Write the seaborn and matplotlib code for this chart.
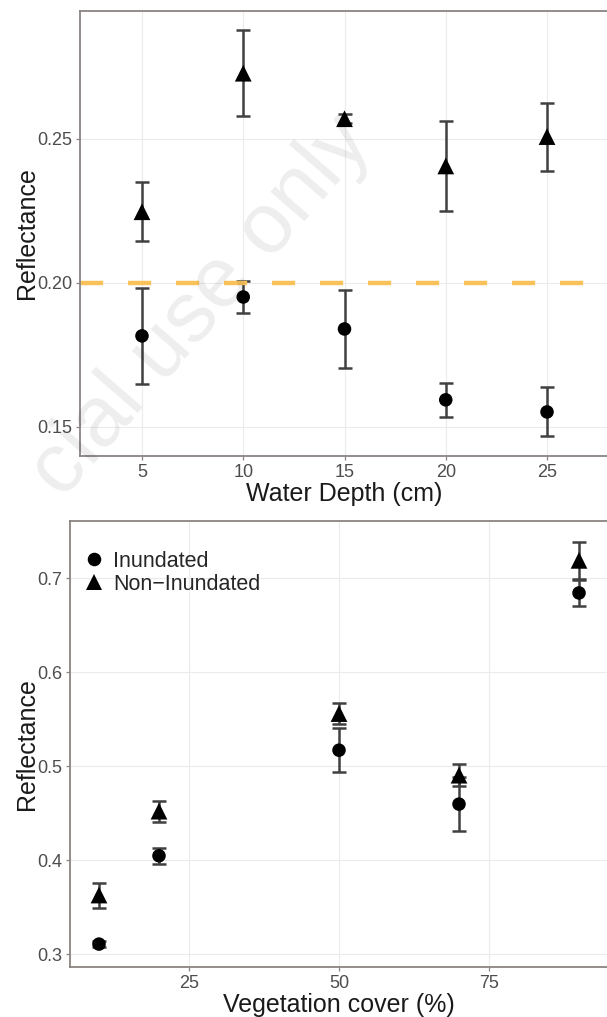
import seaborn as sns
import matplotlib.pyplot as plt
import pandas as pd


# Data

depth = [5, 10, 15, 20, 25]
depth_inund = [0.1816, 0.1951, 0.1840, 0.1594, 0.1552]
depth_inund_se = [0.0168, 0.0055, 0.0134, 0.0059, 0.0085]
depth_non = [0.2247, 0.2728, 0.2570, 0.2406, 0.2508]
depth_non_se = [0.0102, 0.0149, 0.0016, 0.0155, 0.0118]

cover = [10, 20, 50, 70, 90]
cover_inund = [0.3106, 0.4046, 0.5170, 0.4596, 0.6844]
cover_inund_se = [0.0030, 0.0083, 0.0235, 0.0284, 0.0142]
cover_non = [0.3628, 0.4521, 0.5560, 0.4904, 0.7191]
cover_non_se = [0.0133, 0.0112, 0.0115, 0.0120, 0.0197]

groups = ["Inundated", "Non\u2212Inundated"]
threshold = 0.20


def make_df(x, a, a_se, b, b_se):
    return pd.DataFrame({
        "x": list(x) + list(x),
        "y": list(a) + list(b),
        "se": list(a_se) + list(b_se),
        "Group": [groups[0]] * len(x) + [groups[1]] * len(x),
    })


df_depth = make_df(depth, depth_inund, depth_inund_se, depth_non, depth_non_se)
df_cover = make_df(cover, cover_inund, cover_inund_se, cover_non, cover_non_se)


# Style, ggplot theme_bw look

sns.set_theme(style="whitegrid")
plt.rcParams["font.family"] = ["Liberation Sans", "DejaVu Sans"]
plt.rcParams["axes.edgecolor"] = "#8a8482"
plt.rcParams["axes.linewidth"] = 1.3
plt.rcParams["grid.color"] = "#ebebeb"
plt.rcParams["grid.linewidth"] = 0.8

fig = plt.figure(figsize=(6.07, 10.17), dpi=100)
ax1 = fig.add_axes([80 / 607, 1 - 456 / 1017, 529 / 607, 445 / 1017])
ax2 = fig.add_axes([70 / 607, 1 - 967 / 1017, 538 / 607, 446 / 1017])

markers = {groups[0]: "o", groups[1]: "^"}
sizes = {groups[0]: 95, groups[1]: 145}


def draw(ax, df, legend):
    ax.errorbar(df["x"], df["y"], yerr=df["se"], fmt="none",
                ecolor="#404040", elinewidth=1.8, capsize=4.7,
                capthick=1.8, zorder=2)
    sns.scatterplot(data=df, x="x", y="y", style="Group", markers=markers,
                    size="Group", sizes=sizes, color="black",
                    edgecolor="none", linewidth=0, legend=legend, ax=ax,
                    zorder=3)
    ax.tick_params(axis="both", length=3, width=0.9, color="#8a8482",
                   labelsize=13, labelcolor="#4d4d4d", pad=2.5,
                   left=True, bottom=True)
    ax.set_ylabel("Reflectance", fontsize=18, color="#1a1a1a", labelpad=-1.5)
    for s in ax.spines.values():
        s.set_zorder(5)


# Top panel: water depth

draw(ax1, df_depth, False)
ax1.axhline(threshold, color="#f8c15a", linewidth=3.2,
            linestyle=(0, (5.2, 5.6)), zorder=4)
ax1.set_xlim(1.94, 28.06)
ax1.set_ylim(0.1399, 0.2944)
ax1.set_xticks(depth)
ax1.set_yticks([0.15, 0.20, 0.25])
ax1.set_yticklabels(["0.15", "0.20", "0.25"])
ax1.set_xlabel("Water Depth (cm)", fontsize=18, color="#1a1a1a", labelpad=1)


# Bottom panel: vegetation cover

draw(ax2, df_cover, True)
ax2.set_xlim(5.17, 94.83)
ax2.set_ylim(0.2862, 0.761)
ax2.set_xticks([25, 50, 75])
ax2.set_yticks([0.3, 0.4, 0.5, 0.6, 0.7])
ax2.set_xlabel("Vegetation cover (%)", fontsize=18, color="#1a1a1a", labelpad=1)

leg = ax2.legend(loc="upper left", bbox_to_anchor=(-0.012, 0.972), frameon=False,
                 fontsize=15.5, handletextpad=0.3, labelspacing=0.1,
                 borderaxespad=0.4, handlelength=1.2)
for h in leg.legend_handles:
    h.set_color("black")


# Watermark of the source (only its visible part)

fig.text(62 / 607, 1 - 500 / 1017, "cial use only",
         fontsize=62, color="black", alpha=0.07, rotation=49,
         ha="left", va="baseline", rotation_mode="anchor", zorder=10)

fig.savefig("out.png", dpi=100)
